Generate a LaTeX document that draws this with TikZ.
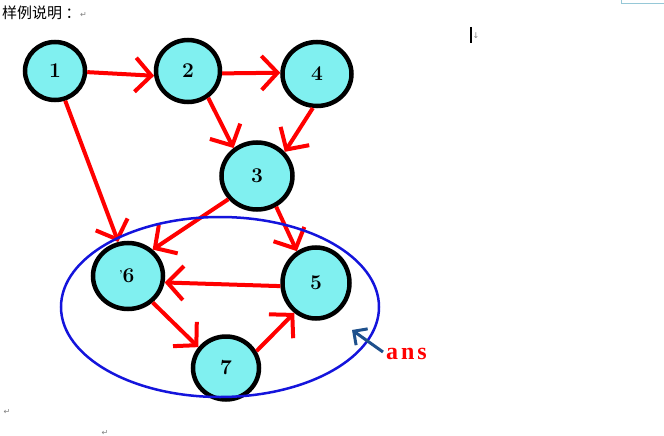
\documentclass[tikz,border=0pt]{standalone}
\usepackage{fontspec}
\newfontfamily\cjk{Noto Sans CJK SC}
\newfontfamily\dvs{DejaVu Sans}
\newfontfamily\ansfont[LetterSpace=12]{Liberation Serif}
\usetikzlibrary{arrows.meta,shapes.geometric}
\definecolor{nodefill}{RGB}{128,240,240}
\definecolor{ansblue}{RGB}{30,80,140}
\definecolor{grpblue}{RGB}{20,20,220}
\definecolor{boxblue}{RGB}{150,200,215}
\tikzset{
  vtx/.style={ellipse, draw=black, line width=4.5pt, fill=nodefill, inner sep=0pt,
    font=\fontsize{21}{21}\selectfont\bfseries},
  redarr/.style={draw=red, line width=4pt, -{Straight Barb[length=16pt,width=34pt]}},
  pmark/.style={inner sep=0pt, text=gray, font=\dvs\fontsize{8}{8}\selectfont},
}
\begin{document}
\begin{tikzpicture}[x=1pt,y=-1pt]
\useasboundingbox (0,0) rectangle (664,436);
\fill[white] (0,0) rectangle (664,436);
% header
\node[anchor=base west, inner sep=0pt] (hdr) at (2,19)
  {\cjk\fontsize{15}{15}\selectfont 样例说明\ ：};
\node[pmark, anchor=base west] (p0) at (80,18) {↵};
\node[pmark] (p1) at (7,412) {↵};
\node[pmark] (p2) at (105,433) {↵};
% top right box corner
\draw[boxblue, line width=1pt, fill=white] (621,-10) rectangle (672,4);
% cursor
\draw[black, line width=2pt] (471,27) -- (471,43);
\node[pmark] (p3) at (476,36) {↓};
% nodes
\node[vtx, minimum width=60pt, minimum height=58pt] (n1) at (55,71) {1};
\node[vtx, minimum width=64pt, minimum height=62pt] (n2) at (188,71) {2};
\node[vtx, minimum width=69pt, minimum height=64pt] (n4) at (317,74) {4};
\node[vtx, minimum width=71pt, minimum height=67pt] (n3) at (257,176) {3};
\node[vtx, minimum width=70pt, minimum height=66pt] (n6) at (128,276) {{\fontsize{10}{10}\selectfont\kern-2pt\raisebox{5pt}{'}}6};
\node[vtx, minimum width=67pt, minimum height=71pt] (n5) at (316,283) {5};
\node[vtx, minimum width=66pt, minimum height=63pt] (n7) at (226,368) {7};
% red arrows
\draw[redarr] (n1.-2) -- (n2.188);
\draw[redarr] (n2.-4) -- (n4.178);
\draw[redarr] (n2.-53) -- (n3.130);
\draw[redarr] (n4.-97) -- (n3.41);
\draw[redarr] (n1.-71) -- (n6.106);
\draw[redarr] (n3.-141) -- (n6.47);
\draw[redarr] (n3.-58) -- (n5.121);
\draw[redarr] (n5.185) -- (n6.-10);
\draw[redarr] (n6.-47) -- (n7.143);
\draw[redarr] (n7.29) -- (n5.-126);
% group ellipse
\node[ellipse, draw=grpblue, line width=2.5pt, minimum width=318pt, minimum height=180pt, inner sep=0pt] (grp) at (220,307) {};
% ans arrow and label
\coordinate (bt) at (383,352);
\coordinate (bh) at (352,330);
\draw[ansblue, line width=3pt, -{Straight Barb[length=10pt,width=20pt]}] (bt) -- (bh);
\node[anchor=base west, inner sep=0pt, text=red] (ans) at (386,359)
  {\ansfont\bfseries\fontsize{24}{24}\selectfont ans};
\end{tikzpicture}
\end{document}
